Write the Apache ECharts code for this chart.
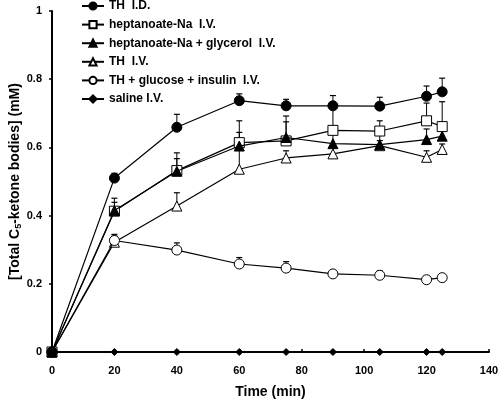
<!DOCTYPE html>
<html><head><meta charset="utf-8">
<script src="https://cdn.jsdelivr.net/npm/echarts@6/dist/echarts.min.js"></script>
<style>html,body{margin:0;padding:0;background:#fff}#c{width:500px;height:400px}</style>
</head><body><div id="c"></div>
<script>
var times = [0, 20, 40, 60, 75, 90, 105, 120, 125];
var seriesNames = ['TH  I.D.', 'heptanoate-Na  I.V.', 'heptanoate-Na + glycerol  I.V.', 'TH  I.V.', 'TH + glucose + insulin  I.V.', 'saline I.V.'];
var thID      = [0, 0.510, 0.659, 0.737, 0.722, 0.722, 0.721, 0.750, 0.763];
var thIDErr   = [0, 0.524, 0.697, 0.757, 0.741, 0.752, 0.747, 0.780, 0.803];
var hepNa     = [0, 0.413, 0.532, 0.614, 0.619, 0.650, 0.648, 0.678, 0.661];
var hepNaErr  = [0, 0.451, 0.584, 0.678, 0.692, 0.720, 0.678, 0.730, 0.734];
var hepGly    = [0, 0.415, 0.530, 0.604, 0.629, 0.611, 0.608, 0.623, 0.633];
var hepGlyErr = [0, 0.439, 0.567, 0.644, 0.675, 0.640, 0.640, 0.654, 0.660];
var thIV      = [0, 0.322, 0.428, 0.536, 0.569, 0.581, 0.605, 0.571, 0.594];
var thIVErr   = [0, 0.340, 0.467, 0.600, 0.590, 0.600, 0.620, 0.590, 0.610];
var thGlu     = [0, 0.327, 0.299, 0.258, 0.246, 0.229, 0.225, 0.212, 0.218];
var thGluErr  = [0, 0.345, 0.320, 0.277, 0.265, 0.238, 0.238, 0.222, 0.228];
var saline    = [0, 0, 0, 0, 0, 0, 0, 0, 0];

function pts(v){ return times.map(function(t,i){ return [t, v[i]]; }); }
function errPts(v, e){ return times.map(function(t,i){ return [t, v[i], e[i]]; }); }

var FONT = 'Liberation Sans, Arial, sans-serif';
var chart = echarts.init(document.getElementById('c'), null, {renderer:'canvas'});

function lineSeries(name, data, symbol, size, filled, z){
  return {
    name: name, type: 'line', data: pts(data), symbol: symbol, symbolSize: size,
    z: z,
    lineStyle: {color: '#000', width: 1.2},
    itemStyle: {color: filled ? '#000' : '#fff', borderColor: '#000', borderWidth: 1},
    emphasis: {disabled: true}, animation: false
  };
}
function errSeries(v, e, z){
  return {
    type: 'custom', data: errPts(v, e), z: z, silent: true, animation: false,
    renderItem: function(params, api){
      var x = api.value(0), y = api.value(1), yt = api.value(2);
      if (yt <= y) return null;
      var p0 = api.coord([x, y]), p1 = api.coord([x, yt]);
      return {type: 'group', children: [
        {type: 'line', shape: {x1: p0[0], y1: p0[1], x2: p1[0], y2: p1[1]}, style: {stroke: '#000', lineWidth: 1}},
        {type: 'line', shape: {x1: p1[0]-3, y1: p1[1], x2: p1[0]+3, y2: p1[1]}, style: {stroke: '#000', lineWidth: 1.2}}
      ]};
    }
  };
}

var triPath = 'path://M0,10 L5,0 L10,10 Z';

chart.setOption({
  animation: false,
  grid: {left: 52, right: 11, top: 11, bottom: 48, containLabel: false, outerBoundsMode: 'none'},
  legend: {
    orient: 'vertical', left: 81, top: 0, padding: 0, itemWidth: 22, itemHeight: 9, itemGap: 6.6,
    data: seriesNames,
    textStyle: {fontFamily: FONT, fontWeight: 'bold', fontSize: 12, color: '#000', lineHeight: 12},
    selectedMode: false
  },
  xAxis: {
    type: 'value', min: 0, max: 140, interval: 20,
    name: 'Time (min)', nameLocation: 'middle', nameGap: 33, nameMoveOverlap: false,
    nameTextStyle: {fontFamily: FONT, fontWeight: 'bold', fontSize: 14, color: '#000'},
    axisLine: {onZero: false, lineStyle: {color: '#000', width: 2}},
    axisTick: {inside: true, length: 3, lineStyle: {color: '#000', width: 1.5}},
    axisLabel: {fontFamily: FONT, fontWeight: 'bold', fontSize: 11, color: '#000', margin: 13},
    splitLine: {show: false}
  },
  yAxis: {
    type: 'value', min: 0, max: 1, interval: 0.2,
    name: '[Total C{sub|5}-ketone bodies] (mM)', nameLocation: 'middle', nameGap: 29, nameMoveOverlap: false,
    nameTextStyle: {fontFamily: FONT, fontWeight: 'bold', fontSize: 14, color: '#000',
      rich: {sub: {fontFamily: FONT, fontWeight: 'bold', fontSize: 9, color: '#000', verticalAlign: 'bottom', padding: [7,0,0,0]}}},
    axisLine: {onZero: false, lineStyle: {color: '#000', width: 2}},
    axisTick: {inside: false, length: 3, lineStyle: {color: '#000', width: 1.5}},
    axisLabel: {fontFamily: FONT, fontWeight: 'bold', fontSize: 11, color: '#000', margin: 10},
    splitLine: {show: false}
  },
  series: [
    errSeries(thID, thIDErr, 2),
    errSeries(hepNa, hepNaErr, 2),
    errSeries(hepGly, hepGlyErr, 2),
    errSeries(thIV, thIVErr, 2),
    errSeries(thGlu, thGluErr, 2),
    lineSeries(seriesNames[0], thID, 'circle', 10, true, 5),
    lineSeries(seriesNames[1], hepNa, 'rect', 10, false, 4),
    lineSeries(seriesNames[2], hepGly, triPath, 10, true, 5),
    lineSeries(seriesNames[3], thIV, triPath, 10, false, 3),
    lineSeries(seriesNames[4], thGlu, 'circle', 10, false, 4),
    lineSeries(seriesNames[5], saline, 'diamond', 7, true, 6)
  ]
});
</script></body></html>
